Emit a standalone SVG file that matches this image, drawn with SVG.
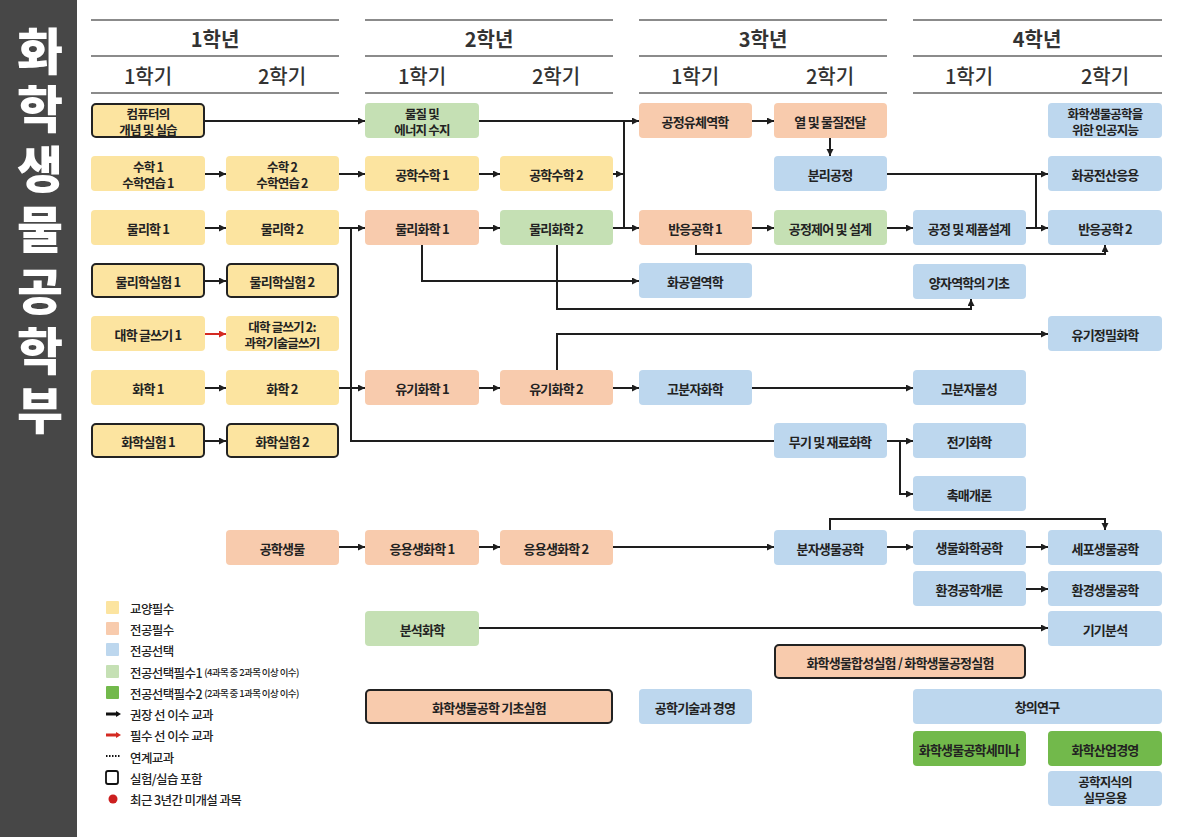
<svg xmlns="http://www.w3.org/2000/svg" width="1179" height="837" viewBox="0 0 1179 837">
<style>
.t{font-family:"Noto Sans CJK KR","Noto Sans",sans-serif;font-size:13px;font-weight:700;fill:#222;text-anchor:middle;dominant-baseline:central;letter-spacing:-0.8px}
.t2{font-size:12.5px}
.yr{font-family:"Noto Sans CJK KR","Noto Sans",sans-serif;font-size:20px;font-weight:700;fill:#333;text-anchor:middle;dominant-baseline:central}
.sm{font-family:"Noto Sans CJK KR","Noto Sans",sans-serif;font-size:20px;font-weight:500;fill:#333;text-anchor:middle;dominant-baseline:central}
.side{font-family:"Noto Sans CJK KR","Noto Sans",sans-serif;font-size:50px;font-weight:900;fill:#fff;text-anchor:middle;dominant-baseline:central}
.lg{font-family:"Noto Sans CJK KR","Noto Sans",sans-serif;font-size:12.5px;font-weight:500;fill:#222;dominant-baseline:central;letter-spacing:-0.6px}
.lgs{font-size:9.5px}
.hl{stroke:#666;stroke-width:1.5;fill:none}
.y{fill:#FCE4A0}
.s{fill:#F8CBAD}
.b{fill:#BDD7EE}
.g{fill:#C5E0B4}
.G{fill:#72B94B}
.lab{stroke:#222;stroke-width:2}
.c{stroke:#1e1e1e;stroke-width:2;fill:none}
.a{marker-end:url(#arr)}
.r{stroke:#d42a22;marker-end:url(#arrR)}
</style>
<defs>
<marker id="arr" markerWidth="8" markerHeight="8" refX="7" refY="3.5" orient="auto" markerUnits="userSpaceOnUse"><path d="M0,0 L7,3.5 L0,7 z" fill="#1e1e1e"/></marker>
<marker id="arrR" markerWidth="8" markerHeight="8" refX="7" refY="3.5" orient="auto" markerUnits="userSpaceOnUse"><path d="M0,0 L7,3.5 L0,7 z" fill="#d42a22"/></marker>
</defs>
<rect width="1179" height="837" fill="#fff"/>
<g id="sidebar">
<rect x="0" y="0" width="77" height="837" fill="#474747"/>
<text class="side"><tspan x="40" y="48">화</tspan><tspan x="40" y="106">학</tspan><tspan x="40" y="166">생</tspan><tspan x="40" y="226">물</tspan><tspan x="40" y="288">공</tspan><tspan x="40" y="348">학</tspan><tspan x="40" y="407">부</tspan></text>
</g>
<g id="header">
<path class="hl" d="M91,20H339M365,20H613M639,20H887M913,20H1162M91,56H339M365,56H613M639,56H887M913,56H1162M91,93H339M365,93H613M639,93H887M913,93H1162"/>
<text class="yr" x="215" y="38">1학년</text>
<text class="yr" x="489" y="38">2학년</text>
<text class="yr" x="763" y="38">3학년</text>
<text class="yr" x="1037" y="38">4학년</text>
<text class="sm" x="148" y="75">1학기</text>
<text class="sm" x="282" y="75">2학기</text>
<text class="sm" x="422" y="75">1학기</text>
<text class="sm" x="556" y="75">2학기</text>
<text class="sm" x="695" y="75">1학기</text>
<text class="sm" x="830" y="75">2학기</text>
<text class="sm" x="969" y="75">1학기</text>
<text class="sm" x="1105" y="75">2학기</text>
</g>
<g id="connectors">
<path class="c a" d="M205,121H365"/>
<path class="c a" d="M479,121H639"/>
<path class="c" d="M624,121V228"/>
<path class="c a" d="M613,174H623"/>
<path class="c a" d="M613,228H639"/>
<path class="c a" d="M205,174H226"/>
<path class="c a" d="M339,174H365"/>
<path class="c a" d="M479,174H500"/>
<path class="c a" d="M205,228H226"/>
<path class="c a" d="M339,228H365"/>
<path class="c" d="M351,228V441H774"/>
<path class="c a" d="M479,228H500"/>
<path class="c a" d="M422,245V281H639"/>
<path class="c a" d="M557,245V309H971V299"/>
<path class="c a" d="M205,281H226"/>
<path class="c r" d="M205,334H226"/>
<path class="c a" d="M205,388H226"/>
<path class="c a" d="M339,388H365"/>
<path class="c a" d="M205,441H226"/>
<path class="c a" d="M479,388H500"/>
<path class="c a" d="M557,370V334H1048"/>
<path class="c a" d="M613,388H639"/>
<path class="c a" d="M752,388H913"/>
<path class="c a" d="M752,121H774"/>
<path class="c a" d="M830,138V156"/>
<path class="c a" d="M887,174H1048"/>
<path class="c" d="M1036,174V228"/>
<path class="c a" d="M1026,228H1048"/>
<path class="c a" d="M752,228H774"/>
<path class="c a" d="M887,228H913"/>
<path class="c a" d="M696,245V254H1105V245"/>
<path class="c a" d="M887,441H913"/>
<path class="c a" d="M900,441V494H913"/>
<path class="c a" d="M339,547H365"/>
<path class="c a" d="M479,547H500"/>
<path class="c a" d="M613,547H774"/>
<path class="c a" d="M887,547H913"/>
<path class="c a" d="M1026,547H1048"/>
<path class="c a" d="M830,530V519H1105V530"/>
<path class="c a" d="M1026,589H1048"/>
<path class="c a" d="M479,628H1048"/>
</g>
<g id="n01"><rect class="y lab" x="92" y="104" width="112" height="33" rx="4"/><text class="t t2"><tspan x="148" y="113">컴퓨터의</tspan><tspan x="148" y="128.5">개념 및 실습</tspan></text></g>
<g id="n02"><rect class="y" x="91" y="156" width="114" height="35" rx="4"/><text class="t t2"><tspan x="148" y="166">수학 1</tspan><tspan x="148" y="181.5">수학연습 1</tspan></text></g>
<g id="n03"><rect class="y" x="91" y="210" width="114" height="35" rx="4"/><text class="t" x="148" y="228">물리학 1</text></g>
<g id="n04"><rect class="y lab" x="92" y="264" width="112" height="33" rx="4"/><text class="t" x="148" y="281">물리학실험 1</text></g>
<g id="n05"><rect class="y" x="91" y="316" width="114" height="35" rx="4"/><text class="t" x="148" y="334">대학 글쓰기 1</text></g>
<g id="n06"><rect class="y" x="91" y="370" width="114" height="35" rx="4"/><text class="t" x="148" y="388">화학 1</text></g>
<g id="n07"><rect class="y lab" x="92" y="424" width="112" height="33" rx="4"/><text class="t" x="148" y="441">화학실험 1</text></g>
<g id="n08"><rect class="y" x="226" y="156" width="113" height="35" rx="4"/><text class="t t2"><tspan x="282" y="166">수학 2</tspan><tspan x="282" y="181.5">수학연습 2</tspan></text></g>
<g id="n09"><rect class="y" x="226" y="210" width="113" height="35" rx="4"/><text class="t" x="282" y="228">물리학 2</text></g>
<g id="n10"><rect class="y lab" x="227" y="264" width="111" height="33" rx="4"/><text class="t" x="282" y="281">물리학실험 2</text></g>
<g id="n11"><rect class="y" x="226" y="316" width="113" height="35" rx="4"/><text class="t t2"><tspan x="282" y="326">대학 글쓰기 2:</tspan><tspan x="282" y="341.5">과학기술글쓰기</tspan></text></g>
<g id="n12"><rect class="y" x="226" y="370" width="113" height="35" rx="4"/><text class="t" x="282" y="388">화학 2</text></g>
<g id="n13"><rect class="y lab" x="227" y="424" width="111" height="33" rx="4"/><text class="t" x="282" y="441">화학실험 2</text></g>
<g id="n14"><rect class="s" x="226" y="530" width="113" height="35" rx="4"/><text class="t" x="282" y="548">공학생물</text></g>
<g id="n15"><rect class="g" x="365" y="103" width="114" height="35" rx="4"/><text class="t t2"><tspan x="422" y="113">물질 및</tspan><tspan x="422" y="128.5">에너지 수지</tspan></text></g>
<g id="n16"><rect class="y" x="365" y="156" width="114" height="35" rx="4"/><text class="t" x="422" y="174">공학수학 1</text></g>
<g id="n17"><rect class="s" x="365" y="210" width="114" height="35" rx="4"/><text class="t" x="422" y="228">물리화학 1</text></g>
<g id="n18"><rect class="s" x="365" y="370" width="114" height="35" rx="4"/><text class="t" x="422" y="388">유기화학 1</text></g>
<g id="n19"><rect class="s" x="365" y="530" width="114" height="35" rx="4"/><text class="t" x="422" y="548">응용생화학 1</text></g>
<g id="n20"><rect class="g" x="365" y="611" width="114" height="35" rx="4"/><text class="t" x="422" y="629">분석화학</text></g>
<g id="n21"><rect class="s lab" x="366" y="690" width="246" height="33" rx="4"/><text class="t" x="489" y="707">화학생물공학 기초실험</text></g>
<g id="n22"><rect class="y" x="500" y="156" width="113" height="35" rx="4"/><text class="t" x="556" y="174">공학수학 2</text></g>
<g id="n23"><rect class="g" x="500" y="210" width="113" height="35" rx="4"/><text class="t" x="556" y="228">물리화학 2</text></g>
<g id="n24"><rect class="s" x="500" y="370" width="113" height="35" rx="4"/><text class="t" x="556" y="388">유기화학 2</text></g>
<g id="n25"><rect class="s" x="500" y="530" width="113" height="35" rx="4"/><text class="t" x="556" y="548">응용생화학 2</text></g>
<g id="n26"><rect class="s" x="639" y="103" width="113" height="35" rx="4"/><text class="t" x="695" y="121">공정유체역학</text></g>
<g id="n27"><rect class="s" x="639" y="210" width="113" height="35" rx="4"/><text class="t" x="695" y="228">반응공학 1</text></g>
<g id="n28"><rect class="b" x="639" y="263" width="113" height="35" rx="4"/><text class="t" x="695" y="281">화공열역학</text></g>
<g id="n29"><rect class="b" x="639" y="370" width="113" height="35" rx="4"/><text class="t" x="695" y="388">고분자화학</text></g>
<g id="n30"><rect class="b" x="639" y="689" width="113" height="35" rx="4"/><text class="t" x="695" y="707">공학기술과 경영</text></g>
<g id="n31"><rect class="s" x="774" y="103" width="113" height="35" rx="4"/><text class="t" x="830" y="121">열 및 물질전달</text></g>
<g id="n32"><rect class="b" x="774" y="156" width="113" height="35" rx="4"/><text class="t" x="830" y="174">분리공정</text></g>
<g id="n33"><rect class="g" x="774" y="210" width="113" height="35" rx="4"/><text class="t" x="830" y="228">공정제어 및 설계</text></g>
<g id="n34"><rect class="b" x="774" y="423" width="113" height="35" rx="4"/><text class="t" x="830" y="441">무기 및 재료화학</text></g>
<g id="n35"><rect class="b" x="774" y="530" width="113" height="35" rx="4"/><text class="t" x="830" y="548">분자생물공학</text></g>
<g id="n36"><rect class="s lab" x="775" y="645" width="250" height="33" rx="4"/><text class="t" x="900" y="662">화학생물합성실험 / 화학생물공정실험</text></g>
<g id="n37"><rect class="b" x="913" y="210" width="113" height="35" rx="4"/><text class="t" x="969" y="228">공정 및 제품설계</text></g>
<g id="n38"><rect class="b" x="913" y="264" width="113" height="35" rx="4"/><text class="t" x="969" y="282">양자역학의 기초</text></g>
<g id="n39"><rect class="b" x="913" y="370" width="113" height="35" rx="4"/><text class="t" x="969" y="388">고분자물성</text></g>
<g id="n40"><rect class="b" x="913" y="423" width="113" height="35" rx="4"/><text class="t" x="969" y="441">전기화학</text></g>
<g id="n41"><rect class="b" x="913" y="476" width="113" height="35" rx="4"/><text class="t" x="969" y="494">촉매개론</text></g>
<g id="n42"><rect class="b" x="913" y="530" width="113" height="35" rx="4"/><text class="t" x="969" y="547">생물화학공학</text></g>
<g id="n43"><rect class="b" x="913" y="571" width="113" height="35" rx="4"/><text class="t" x="969" y="589">환경공학개론</text></g>
<g id="n44"><rect class="b" x="913" y="689" width="249" height="35" rx="4"/><text class="t" x="1037" y="706">창의연구</text></g>
<g id="n45"><rect class="G" x="913" y="731" width="113" height="35" rx="4"/><text class="t" x="969" y="749">화학생물공학세미나</text></g>
<g id="n46"><rect class="b" x="1048" y="103" width="114" height="35" rx="4"/><text class="t t2"><tspan x="1105" y="113">화학생물공학을</tspan><tspan x="1105" y="128.5">위한 인공지능</tspan></text></g>
<g id="n47"><rect class="b" x="1048" y="156" width="114" height="35" rx="4"/><text class="t" x="1105" y="174">화공전산응용</text></g>
<g id="n48"><rect class="b" x="1048" y="210" width="114" height="35" rx="4"/><text class="t" x="1105" y="228">반응공학 2</text></g>
<g id="n49"><rect class="b" x="1048" y="316" width="114" height="35" rx="4"/><text class="t" x="1105" y="334">유기정밀화학</text></g>
<g id="n50"><rect class="b" x="1048" y="530" width="114" height="35" rx="4"/><text class="t" x="1105" y="548">세포생물공학</text></g>
<g id="n51"><rect class="b" x="1048" y="571" width="114" height="35" rx="4"/><text class="t" x="1105" y="589">환경생물공학</text></g>
<g id="n52"><rect class="b" x="1048" y="611" width="114" height="35" rx="4"/><text class="t" x="1105" y="629">기기분석</text></g>
<g id="n53"><rect class="G" x="1048" y="731" width="114" height="35" rx="4"/><text class="t" x="1105" y="749">화학산업경영</text></g>
<g id="n54"><rect class="b" x="1048" y="771" width="114" height="35" rx="4"/><text class="t t2"><tspan x="1105" y="781">공학지식의</tspan><tspan x="1105" y="796.5">실무응용</tspan></text></g>
<g id="legend">
<rect class="y" x="106" y="601" width="13" height="13" rx="1"/><text class="lg" x="130" y="608">교양필수</text>
<rect class="s" x="106" y="622" width="13" height="13" rx="1"/><text class="lg" x="130" y="629">전공필수</text>
<rect class="b" x="106" y="643" width="13" height="13" rx="1"/><text class="lg" x="130" y="650">전공선택</text>
<rect class="g" x="106" y="665" width="13" height="13" rx="1"/><text class="lg" x="130" y="672">전공선택필수1 <tspan class="lgs">(4과목 중 2과목 이상 이수)</tspan></text>
<rect class="G" x="106" y="686" width="13" height="13" rx="1"/><text class="lg" x="130" y="693">전공선택필수2 <tspan class="lgs">(2과목 중 1과목 이상 이수)</tspan></text>
<path d="M106,714H118" stroke="#111" stroke-width="3"/><path d="M116,711L121,714L116,717z" fill="#111"/><text class="lg" x="130" y="714">권장 선 이수 교과</text>
<path d="M106,735H118" stroke="#d42a22" stroke-width="3"/><path d="M116,732L121,735L116,738z" fill="#d42a22"/><text class="lg" x="130" y="735">필수 선 이수 교과</text>
<path d="M106,756H120" stroke="#111" stroke-width="2" stroke-dasharray="1.5,1.5"/><text class="lg" x="130" y="757">연계교과</text>
<rect x="106" y="771" width="12" height="13" rx="2" fill="none" stroke="#111" stroke-width="1.8"/><text class="lg" x="130" y="778">실험/실습 포함</text>
<circle cx="113" cy="799" r="4.5" fill="#cc1f1f"/><text class="lg" x="130" y="799">최근 3년간 미개설 과목</text>
</g>
</svg>
